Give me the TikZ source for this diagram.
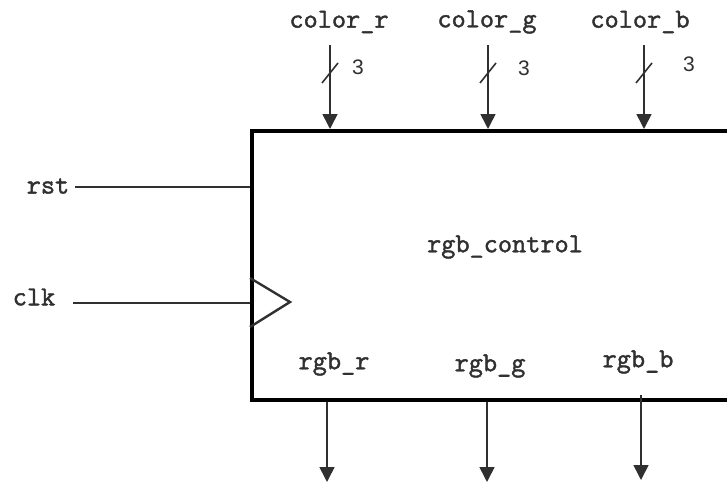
\documentclass[tikz,border=0pt]{standalone}
\usepackage{fontspec}
\setmonofont{Latin Modern Mono}[AutoFakeBold=1.6]
\setsansfont{Liberation Sans}
\usetikzlibrary{arrows.meta,positioning}
\definecolor{wire}{HTML}{303030}
\tikzset{sig/.style={-{Triangle[length=15pt,width=15pt]},line width=1.6pt,draw=wire},
 plain/.style={line width=1.6pt,draw=wire},
 pin/.style={font=\ttfamily\bfseries\fontsize{27.5}{30}\selectfont,text=wire,inner sep=0pt},
 width/.style={font=\sffamily\fontsize{21}{24}\selectfont,text=wire,inner sep=0pt}}

\begin{document}
\begin{tikzpicture}[x=1pt,y=-1pt]
\useasboundingbox (0,0) rectangle (727,484);
\clip (0,0) rectangle (727,484);
\node[draw,line width=4pt,minimum width=520pt,minimum height=269pt,anchor=north west,inner sep=0pt] (ctrl) at (250,129) {};
\node[pin] (name) at (505,247) {rgb\_control};
% inputs on top
\node[pin] (cr) at (339,22) {color\_r};
\node[pin] (cg) at (487,22) {color\_g};
\node[pin] (cb) at (640,22) {color\_b};
\coordinate (incr) at (330,45);
\coordinate (incg) at (488,45);
\coordinate (incb) at (644,45);
\draw[sig] (incr)--(incr |- ctrl.north);
\draw[sig] (incg)--(incg |- ctrl.north);
\draw[sig] (incb)--(incb |- ctrl.north);
\draw[plain] (322,83)--(338,63) (480,83)--(496,63) (636,83)--(652,63);
\node[width] (wr) at (358,67) {3};
\node[width] (wg) at (524,68) {3};
\node[width] (wb) at (689,64) {3};
% rst and clk
\node[pin] (rst) at (48,186) {rst};
\node[pin] (clk) at (34,297) {clk};
\coordinate (rstend) at (75,187);
\coordinate (clkend) at (73,303);
\draw[plain] (rstend)--(rstend -| ctrl.west);
\draw[plain] (clkend)--(clkend -| ctrl.west);
\draw[line width=2.4pt,draw=wire] (250,278)--(290,302)--(250,327);
% outputs
\node[pin] (rr) at (334,364) {rgb\_r};
\node[pin] (rg) at (490,366) {rgb\_g};
\node[pin] (rb) at (638,362) {rgb\_b};
\coordinate (outr) at (327,482);
\coordinate (outg) at (487,482);
\coordinate (outb) at (641,480);
\draw[sig] (outr |- ctrl.south)--(outr);
\draw[sig] (outg |- ctrl.south)--(outg);
\draw[sig] (641,395)--(outb);
\end{tikzpicture}
\end{document}
